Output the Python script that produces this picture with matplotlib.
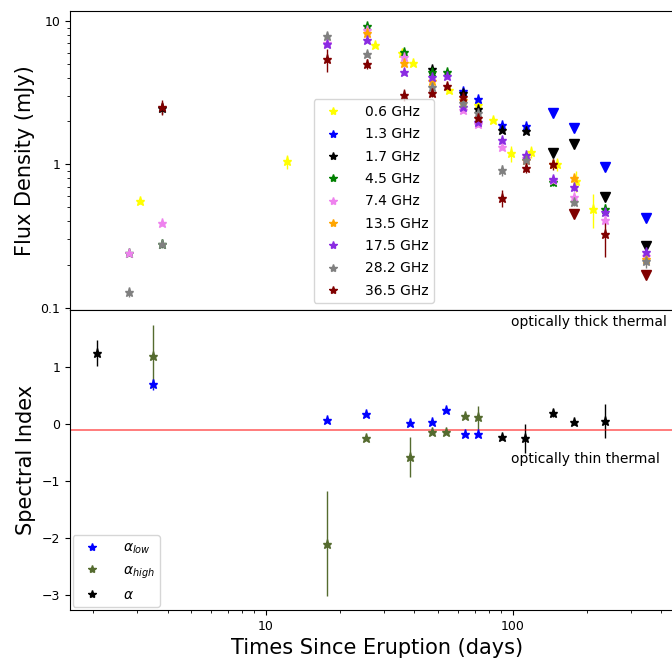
import matplotlib
matplotlib.use("Agg")
import matplotlib.pyplot as plt
from matplotlib.lines import Line2D
from matplotlib.ticker import FuncFormatter, NullFormatter

# ---- flux densities (mJy) per band, detections ----
t_06 = [3.1, 12.2, 27.6, 35.5, 39.4, 55.1, 72.2, 83, 98, 119, 151, 181, 211]
f_06 = [0.555, 1.05, 6.85, 5.97, 5.1, 3.3, 2.58, 2.05, 1.19, 1.22, 1.0, 0.77, 0.49]
e_06 = [0.03, 0.12, 0.3, 0.25, 0.2, 0.15, 0.3, 0.08, 0.15, 0.12, 0.1, 0.13, 0.13]

t_13 = [62.8, 72.2, 90.2, 113]
f_13 = [3.24, 2.84, 1.87, 1.85]
e_13 = [0.1, 0.1, 0.07, 0.07]

t_17 = [3.79, 47, 62.8, 72.2, 90.2, 113]
f_17 = [2.46, 4.64, 3.13, 2.45, 1.74, 1.71]
e_17 = [0.2, 0.15, 0.1, 0.1, 0.06, 0.06]

t_45 = [2.79, 3.79, 25.6, 36.2, 47, 54.1, 145, 236]
f_45 = [0.24, 0.28, 9.16, 6.06, 4.4, 4.44, 0.75, 0.49]
e_45 = [0.01, 0.01, 0.3, 0.2, 0.15, 0.15, 0.04, 0.04]

t_74 = [2.79, 3.79, 17.7, 25.6, 36.2, 62.8, 72.2, 90.2, 113, 145, 177, 236, 345]
f_74 = [0.24, 0.39, 6.97, 8.6, 5.6, 2.38, 1.9, 1.32, 1.1, 0.78, 0.59, 0.41, 0.23]
e_74 = [0.01, 0.02, 0.3, 0.3, 0.2, 0.1, 0.08, 0.06, 0.05, 0.04, 0.03, 0.03, 0.02]

t_135 = [25.6, 36.2, 47, 62.8, 113, 145, 177, 345]
f_135 = [8.2, 5.08, 3.8, 2.79, 1.07, 1.0, 0.8, 0.22]
e_135 = [0.3, 0.2, 0.15, 0.1, 0.05, 0.05, 0.05, 0.02]

t_175 = [17.7, 25.6, 36.2, 47, 54.1, 62.8, 72.2, 90.2, 113, 145, 177, 236, 345]
f_175 = [6.9, 7.4, 4.4, 4.05, 4.1, 2.51, 1.97, 1.47, 1.155, 0.79, 0.69, 0.466, 0.245]
e_175 = [0.3, 0.3, 0.2, 0.15, 0.15, 0.1, 0.08, 0.06, 0.05, 0.04, 0.04, 0.03, 0.02]

t_282 = [2.79, 3.79, 17.7, 25.6, 47, 62.8, 72.2, 90.2, 113, 177, 345]
f_282 = [0.128, 0.28, 7.9, 5.9, 3.45, 2.67, 2.28, 0.908, 1.07, 0.55, 0.21]
e_282 = [0.01, 0.02, 0.5, 0.3, 0.15, 0.1, 0.1, 0.08, 0.06, 0.04, 0.02]

t_365 = [3.79, 17.7, 25.6, 36.2, 47, 54.1, 62.8, 72.2, 90.2, 113, 145, 236]
f_365 = [2.5, 5.4, 5.05, 3.07, 3.17, 3.5, 2.94, 2.11, 0.586, 0.94, 1.0, 0.325]
e_365 = [0.3, 1.0, 0.4, 0.3, 0.2, 0.2, 0.15, 0.12, 0.08, 0.07, 0.08, 0.1]

# ---- upper limits (triangles) ----
tu_13 = [145, 177, 236, 345]
fu_13 = [2.29, 1.8, 0.96, 0.425]
tu_17 = [145, 177, 236, 345]
fu_17 = [1.19, 1.38, 0.59, 0.27]
tu_365 = [177, 345]
fu_365 = [0.45, 0.17]

# ---- spectral indices ----
t_alow = [3.49, 17.7, 25.4, 38.3, 47.3, 53.5, 63.8, 72.2]
a_low = [0.70, 0.07, 0.18, 0.02, 0.03, 0.24, -0.18, -0.18]
e_low = [0.1, 0.03, 0.03, 0.03, 0.03, 0.03, 0.03, 0.03]

t_ahigh = [3.49, 17.7, 25.4, 38.3, 47.3, 53.5, 63.8, 72.2]
a_high = [1.19, -2.1, -0.25, -0.58, -0.14, -0.13, 0.14, 0.12]
e_high = [0.55, 0.92, 0.03, 0.35, 0.03, 0.03, 0.03, 0.2]

t_alpha = [2.07, 90.2, 112, 145, 177, 236]
a_all = [1.25, -0.23, -0.25, 0.19, 0.03, 0.05]
e_all = [0.23, 0.05, 0.25, 0.07, 0.05, 0.3]

bands = [
    ("0.6 GHz", "yellow", t_06, f_06, e_06),
    ("1.3 GHz", "blue", t_13, f_13, e_13),
    ("1.7 GHz", "black", t_17, f_17, e_17),
    ("4.5 GHz", "green", t_45, f_45, e_45),
    ("7.4 GHz", "violet", t_74, f_74, e_74),
    ("13.5 GHz", "orange", t_135, f_135, e_135),
    ("17.5 GHz", "blueviolet", t_175, f_175, e_175),
    ("28.2 GHz", "gray", t_282, f_282, e_282),
    ("36.5 GHz", "maroon", t_365, f_365, e_365),
]

fig = plt.figure(figsize=(6.72, 6.6), dpi=100)
ax1 = fig.add_axes([0.104, 0.530, 0.915, 0.453])
ax2 = fig.add_axes([0.104, 0.076, 0.915, 0.454], sharex=ax1)

handles = []
for label, col, t, f, e in bands:
    ax1.errorbar(t, f, yerr=e, fmt="*", color=col, ms=6.5, elinewidth=1)
    handles.append(Line2D([], [], marker="*", ls="", color=col, ms=6, label=label))

ax1.plot(tu_13, fu_13, "v", color="blue", ms=6.5)
ax1.plot(tu_17, fu_17, "v", color="black", ms=6.5)
ax1.plot(tu_365, fu_365, "v", color="maroon", ms=6.5)

ax1.set_xscale("log")
ax1.set_yscale("log")
ax1.set_xlim(1.61, 497)
ax1.set_ylim(0.096, 11.7)
ax1.set_ylabel("Flux Density (mJy)", fontsize=15)
ax1.yaxis.set_major_formatter(FuncFormatter(lambda v, p: f"{v:g}"))
ax1.yaxis.set_minor_formatter(NullFormatter())
ax1.tick_params(labelsize=9)
plt.setp(ax1.get_xticklabels(), visible=False)
ax1.legend(handles=handles, loc="lower left", bbox_to_anchor=(0.385, 0.0),
           fontsize=10, handletextpad=1.3, labelspacing=0.6)

alpha_sets = [
    (r"$\alpha_{low}$", "blue", t_alow, a_low, e_low),
    (r"$\alpha_{high}$", "darkolivegreen", t_ahigh, a_high, e_high),
    (r"$\alpha$", "black", t_alpha, a_all, e_all),
]
handles2 = []
for label, col, t, a, e in alpha_sets:
    ax2.errorbar(t, a, yerr=e, fmt="*", color=col, ms=6.5, elinewidth=1)
    handles2.append(Line2D([], [], marker="*", ls="", color=col, ms=6, label=label))

ax2.axhline(-0.1, color="red", alpha=0.6, lw=1.2)

ax2.text(98, 1.8, "optically thick thermal", fontsize=10, va="center")
ax2.text(98, -0.62, "optically thin thermal", fontsize=10, va="center")

ax2.set_ylim(-3.26, 2.0)
ax2.set_yticks([-3, -2, -1, 0, 1])
ax2.set_ylabel("Spectral Index", fontsize=15)
ax2.set_xlabel("Times Since Eruption (days)", fontsize=15)
ax2.xaxis.set_major_formatter(FuncFormatter(lambda v, p: f"{v:g}"))
ax2.xaxis.set_minor_formatter(NullFormatter())
ax2.tick_params(labelsize=9)
ax2.legend(handles=handles2, loc="lower left", fontsize=10, handletextpad=1.2,
           borderaxespad=0.2)

fig.savefig("out.png", dpi=100)
